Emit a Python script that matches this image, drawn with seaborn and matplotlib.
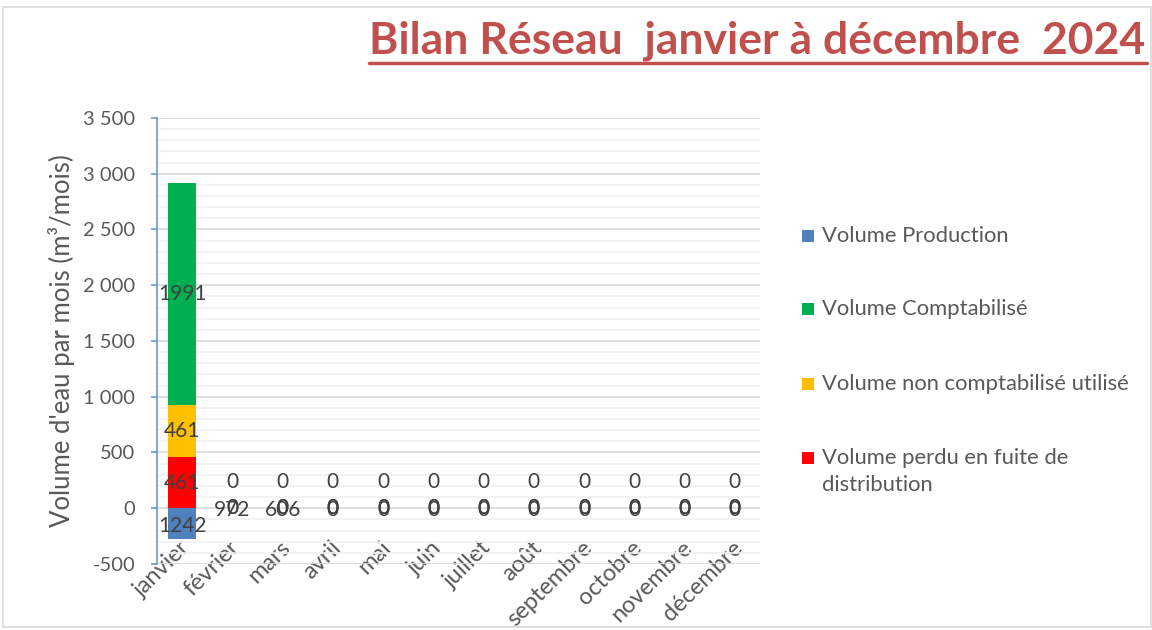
import matplotlib
matplotlib.use("Agg")
import matplotlib.pyplot as plt
import matplotlib.transforms as mtransforms
import seaborn as sns
import numpy as np
import pandas as pd
from matplotlib.patches import Rectangle
from matplotlib.lines import Line2D
from matplotlib.ticker import FuncFormatter, MultipleLocator

sns.set_theme(style="white")
plt.rcParams['font.family'] = ['Lato', 'DejaVu Sans']

months = ["janvier", "février", "mars", "avril", "mai", "juin", "juillet",
          "août", "septembre", "octobre", "novembre", "décembre"]
production_label = [1242, 972, 606, 0, 0, 0, 0, 0, 0, 0, 0, 0]
production_bar = [-280, 0, 0, 0, 0, 0, 0, 0, 0, 0, 0, 0]
comptabilise = [1991, 0, 0, 0, 0, 0, 0, 0, 0, 0, 0, 0]
non_comptabilise = [461, 0, 0, 0, 0, 0, 0, 0, 0, 0, 0, 0]
perdu = [461, 0, 0, 0, 0, 0, 0, 0, 0, 0, 0, 0]

series_names = ["Volume Production", "Volume Comptabilisé",
                "Volume non comptabilisé utilisé",
                "Volume perdu en fuite de\ndistribution"]
colors = ["#4F81BD", "#00B050", "#FFC000", "#FF0000"]
title = "Bilan Réseau  janvier à décembre  2024"
ylabel = "Volume d'eau par mois (m³/mois)"

df = pd.DataFrame({
    "mois": months,
    "prod": production_bar,
    "red": perdu,
    "yellow": np.array(perdu) + np.array(non_comptabilise),
    "green": np.array(perdu) + np.array(non_comptabilise) + np.array(comptabilise),
})

fig = plt.figure(figsize=(11.52, 6.3), dpi=100)
ax = fig.add_axes([0.1363, 0.1048, 0.5234, 0.7079])

txt_col = "#595959"
lab_col = "#404040"

# gridlines
ax.set_ylim(-500, 3500)
ax.yaxis.set_major_locator(MultipleLocator(500))
ax.yaxis.set_minor_locator(MultipleLocator(100))
ax.grid(axis="y", which="minor", color="#F0F0F0", linewidth=1.2, zorder=0)
ax.grid(axis="y", which="major", color="#D9D9D9", linewidth=1.2, zorder=0)
ax.set_axisbelow(True)

w = 0.56
sns.barplot(data=df, x="mois", y="green", color=colors[1], width=w,
            saturation=1, ax=ax, zorder=2)
sns.barplot(data=df, x="mois", y="yellow", color=colors[2], width=w,
            saturation=1, ax=ax, zorder=3)
sns.barplot(data=df, x="mois", y="red", color=colors[3], width=w,
            saturation=1, ax=ax, zorder=4)
sns.barplot(data=df, x="mois", y="prod", color=colors[0], width=w,
            saturation=1, ax=ax, zorder=5)
for p in ax.patches:
    p.set_edgecolor("none")

ax.set_xlim(-0.5, 11.5)

# data labels
fs_lab = 15
for i in range(len(months)):
    g_bot = perdu[i] + non_comptabilise[i]
    ax.text(i, g_bot + comptabilise[i] / 2, f"{comptabilise[i]}", ha="center",
            va="center", fontsize=fs_lab, color=lab_col, zorder=10)
    ax.text(i, perdu[i] + non_comptabilise[i] / 2, f"{non_comptabilise[i]}",
            ha="center", va="center", fontsize=fs_lab, color=lab_col, zorder=10)
    if perdu[i] != 0:
        ax.text(i, perdu[i] / 2, f"{perdu[i]}", ha="center", va="center",
                fontsize=fs_lab, color=lab_col, zorder=10)
    else:
        ax.annotate(f"{perdu[i]}", (i, 0), xytext=(0, 26),
                    textcoords="offset pixels", ha="center", va="center",
                    fontsize=fs_lab, color=lab_col, zorder=10)
    ax.annotate(f"{production_label[i]}", (i, production_bar[i] / 2),
                xytext=(0, -2), textcoords="offset pixels", ha="center",
                va="center", fontsize=fs_lab, color=lab_col, zorder=10)

# axes styling
for s in ["top", "right", "bottom"]:
    ax.spines[s].set_visible(False)
ax.spines["left"].set_color("#6A9AD0")
ax.spines["left"].set_linewidth(1.2)
ax.tick_params(axis="y", which="major", direction="out", length=4.5, width=1.2,
               color="#6A9AD0", labelsize=14.5, labelcolor=txt_col, pad=11, left=True)
ax.tick_params(axis="y", which="minor", left=False)
ax.tick_params(axis="x", length=0, labelsize=17, labelcolor=txt_col, pad=0)
ax.yaxis.set_major_formatter(FuncFormatter(lambda v, p: f"{v:,.0f}".replace(",", " ")))
ax.set_xlabel("")
ax.set_ylabel(ylabel, fontsize=18.5, color=txt_col, labelpad=6)
shift = mtransforms.ScaledTranslation(-3 / 100, 27 / 100, fig.dpi_scale_trans)
for lbl in ax.get_xticklabels():
    lbl.set_rotation(45)
    lbl.set_ha("right")
    lbl.set_va("top")
    lbl.set_rotation_mode("anchor")
    lbl.set_transform(lbl.get_transform() + shift)

# legend (manual)
leg_y = [236, 309, 384, 458]
for name, col, yy in zip(series_names, colors, leg_y):
    fy = 1 - yy / 630
    fig.patches.append(Rectangle((802 / 1152, fy - 6 / 630), 12 / 1152, 12 / 630,
                                 transform=fig.transFigure, facecolor=col,
                                 edgecolor="none"))
    fig.text(822 / 1152, fy + 10 / 630, name, ha="left", va="top", fontsize=15.8,
             color=txt_col, linespacing=1.45)

# title with underline
t = fig.text(1145 / 1152, 1 - 41 / 630, title, ha="right", va="center",
             fontsize=32, fontweight="bold", color="#C0504D")
fig.canvas.draw()
bb = t.get_window_extent()
uy = 1 - 63 / 630
fig.lines.append(Line2D([bb.x0 / 1152, bb.x1 / 1152 + 2 / 1152], [uy, uy],
                        transform=fig.transFigure, color="#C0504D", linewidth=2.5))

# outer border
fig.patches.append(Rectangle((3 / 1152, 3 / 630), 1 - 4 / 1152, 1 - 10 / 630,
                             transform=fig.transFigure, facecolor="none",
                             edgecolor="#D9D9D9", linewidth=1.2))

fig.savefig("out.png", dpi=100)
